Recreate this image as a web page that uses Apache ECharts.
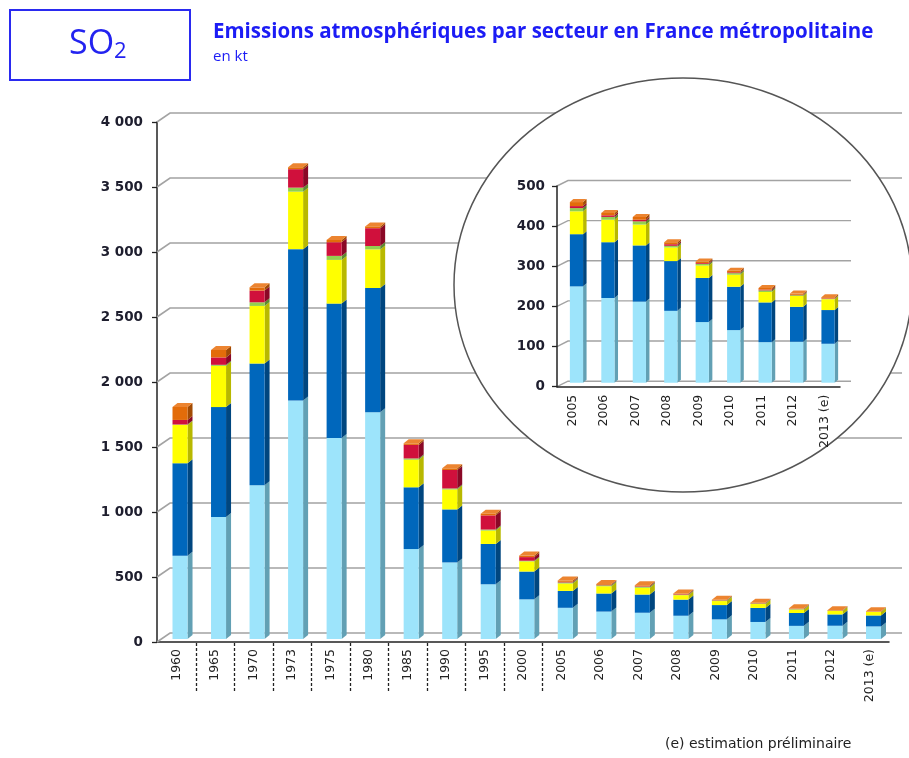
<!DOCTYPE html>
<html><head><meta charset="utf-8">
<script src="https://cdn.jsdelivr.net/npm/echarts@6/dist/echarts.min.js"></script>
<style>html,body{margin:0;padding:0;background:#fff}#c{width:909px;height:758px}</style>
</head><body><div id="c"></div>
<script>
// ---- DATA (kt SO2) ----
const years = ['1960','1965','1970','1973','1975','1980','1985','1990','1995','2000','2005','2006','2007','2008','2009','2010','2011','2012','2013 (e)'];
const transformationEnergie = [641,939,1183,1835,1546,1744,692,589,421,305,240,211,202,179,151,131,101,102,97];
const industrieManufacturiere = [711,845,936,1164,1034,956,475,408,310,214,130,139,140,124,110,108,99,87,84];
const residentielTertiaire = [295,317,443,442,336,297,212,153,103,78,57,56,52,34,31,30,26,27,27];
const agricultureSylviculture = [3,8,28,31,31,26,10,8,8,5,8,7,8,4,4,4,4,2,1];
const transportRoutier = [35,57,90,142,105,137,104,142,109,28,5,4,4,4,2,2,2,1,1];
const autresTransports = [100,57,25,15,18,14,12,13,13,12,10,6,7,5,4,4,4,3,3];
const mainTicks = [0,500,1000,1500,2000,2500,3000,3500,4000];
const insetTicks = [0,100,200,300,400,500];
const insetFirstYear = '2005';
const dashedAfter = ['1960','1965','1970','1973','1975','1980','1985','1990','1995','2000'];

const insetStart = years.indexOf(insetFirstYear);
const insetYears = years.slice(insetStart);

const sectors = [
  {name:'Transformation énergie', data:transformationEnergie, face:'#9de4fb', side:'#62a0b4'},
  {name:'Industrie manufacturière', data:industrieManufacturiere, face:'#0067bc', side:'#00467f'},
  {name:'Résidentiel / tertiaire', data:residentielTertiaire, face:'#ffff00', side:'#b8b800'},
  {name:'Agriculture / sylviculture', data:agricultureSylviculture, face:'#92d050', side:'#5e8a30'},
  {name:'Transport routier', data:transportRoutier, face:'#d0103c', side:'#8a0826'},
  {name:'Autres transports', data:autresTransports, face:'#e36c0a', side:'#a24b04', cap:'#ec8430'}
];

function fmt(v){ return String(v).replace(/\B(?=(\d{3})+(?!\d))/g,' '); }

function barSeries(gridIdx, start, geom, z){
  const out = [];
  sectors.forEach((s, k) => {
    const rows = [];
    for (let i = start; i < years.length; i++) {
      let base = 0;
      for (let j = 0; j < k; j++) base += sectors[j].data[i];
      rows.push([i - start, base, s.data[i]]);
    }
    const isTop = k === sectors.length - 1;
    out.push({
      type:'custom', name:s.name, xAxisIndex:gridIdx, yAxisIndex:gridIdx, z:z + k,
      data: rows, encode:{x:0, y:2},
      renderItem:function(params, api){
        const i = api.value(0), b = api.value(1), v = api.value(2);
        const band = api.size([1,0])[0];
        const w = band*geom.ratio;
        const p0 = api.coord([i,b]), p1 = api.coord([i,b+v]);
        const xl = p0[0]-w/2+geom.ox, xr = xl+w, yb = p0[1]+geom.oy, yt = p1[1]+geom.oy;
        const ch = [
          {type:'polygon', shape:{points:[[xr,yb],[xr+geom.dx,yb-geom.dy],[xr+geom.dx,yt-geom.dy],[xr,yt]]}, style:{fill:s.side}},
          {type:'rect', shape:{x:xl,y:yt,width:w,height:yb-yt}, style:{fill:s.face}}
        ];
        if (isTop) ch.push({type:'polygon', shape:{points:[[xl,yt],[xl+geom.dx,yt-geom.dy],[xr+geom.dx,yt-geom.dy],[xr,yt]]}, style:{fill:s.cap}});
        return {type:'group', children:ch};
      }
    });
  });
  return out;
}

function gridLineSeries(gridIdx, ticks, gdx, gdy, z, lw){
  return {
    type:'custom', xAxisIndex:gridIdx, yAxisIndex:gridIdx, z:z, silent:true,
    data: ticks.map(v => [0, v]),
    renderItem:function(params, api){
      const cs = params.coordSys;
      const y = api.coord([0, api.value(1)])[1];
      const x0 = cs.x, x1 = cs.x + cs.width;
      return {type:'polyline', shape:{points:[[x0,y],[x0+gdx,y-gdy],[x1+gdx,y-gdy]]}, style:{stroke:'#a3a3a3', lineWidth:lw, fill:null}};
    }
  };
}

const dashSeries = {
  type:'custom', xAxisIndex:0, yAxisIndex:0, z:5, silent:true,
  data: dashedAfter.map(y => [years.indexOf(y), 0]),
  renderItem:function(params, api){
    const cs = params.coordSys;
    const band = api.size([1,0])[0];
    const x = Math.round(api.coord([api.value(0), 0])[0] + band/2) + 0.5;
    const y0 = cs.y + cs.height;
    return {type:'line', shape:{x1:x,y1:y0+1,x2:x,y2:y0+50}, style:{stroke:'#222', lineWidth:1.3, lineDash:[3,2]}};
  }
};

const axisFont = 'DejaVu Sans';
const opt = {
  animation:false,
  backgroundColor:'#fff',
  title:[
    {text:'Emissions atmosphériques par secteur en France métropolitaine', subtext:'en kt', left:213, top:22, itemGap:6, padding:0,
     textStyle:{fontFamily:'Open Sans', fontSize:20.5, fontWeight:'bold', color:'#1c1cf5'},
     subtextStyle:{fontFamily:'Open Sans', fontSize:15, color:'#1c1cf5'}},
    {text:'{a|SO}{b|2}', left:69, top:25, padding:0,
     textStyle:{fontWeight:'normal', rich:{a:{fontFamily:'Open Sans', fontSize:34, fontWeight:'normal', color:'#2323f0'}, b:{fontFamily:'Open Sans', fontSize:22, fontWeight:'normal', color:'#2323f0', padding:[16,0,0,0]}}}},
    {text:'(e) estimation préliminaire', left:665, top:737, padding:0,
     textStyle:{fontFamily:'DejaVu Sans', fontSize:14, fontWeight:'normal', color:'#222'}}
  ],
  graphic:[
    {type:'rect', shape:{x:10,y:10,width:180,height:70}, style:{fill:'none', stroke:'#2a2af0', lineWidth:2}},
    {type:'ellipse', z:50, shape:{cx:683, cy:285, rx:229, ry:207}, style:{fill:'#fff', stroke:'#555', lineWidth:1.5}}
  ],
  grid:[
    {left:157, right:20, top:122, bottom:116},
    {left:557, width:283, top:186, bottom:371.3}
  ],
  xAxis:[
    {type:'category', gridIndex:0, data:years, boundaryGap:true,
     axisLine:{lineStyle:{color:'#222', width:1.5}},
     axisTick:{length:6, lineStyle:{color:'#222', width:1.3}},
     axisLabel:{rotate:90, fontSize:12.5, fontFamily:axisFont, color:'#222', margin:7, interval:0}},
    {type:'category', gridIndex:1, data:insetYears, z:60,
     axisLine:{lineStyle:{color:'#222', width:1.5}},
     axisTick:{length:6, lineStyle:{color:'#222', width:1.3}},
     axisLabel:{rotate:90, fontSize:12.5, fontFamily:axisFont, color:'#222', margin:8, interval:0}}
  ],
  yAxis:[
    {type:'value', gridIndex:0, min:0, max:4000, interval:500,
     axisLine:{show:true, lineStyle:{color:'#222', width:1.5}},
     axisTick:{show:true, length:5, lineStyle:{color:'#222', width:1.3}},
     splitLine:{show:false},
     axisLabel:{formatter:fmt, fontSize:13.5, fontWeight:'bold', fontFamily:axisFont, color:'#1e1e2e', margin:14}},
    {type:'value', gridIndex:1, min:0, max:500, interval:100, z:60,
     axisLine:{show:true, lineStyle:{color:'#222', width:1.5}},
     axisTick:{show:true, length:5, lineStyle:{color:'#222', width:1.3}},
     splitLine:{show:false},
     axisLabel:{formatter:fmt, fontSize:13.5, fontWeight:'bold', fontFamily:axisFont, color:'#1e1e2e', margin:12}}
  ],
  series:[
    gridLineSeries(0, mainTicks, 13, 9, 2, 1.6),
    dashSeries
  ].concat(
    barSeries(0, 0, {ratio:0.39, dx:5, dy:4, ox:3.75, oy:-3}, 10),
    [gridLineSeries(1, insetTicks, 11, 5.5, 55, 1.4)],
    barSeries(1, insetStart, {ratio:0.42, dx:3.5, dy:3, ox:3.75, oy:-4}, 70)
  )
};
const chart = echarts.init(document.getElementById('c'));
chart.setOption(opt);
</script>
</body></html>
